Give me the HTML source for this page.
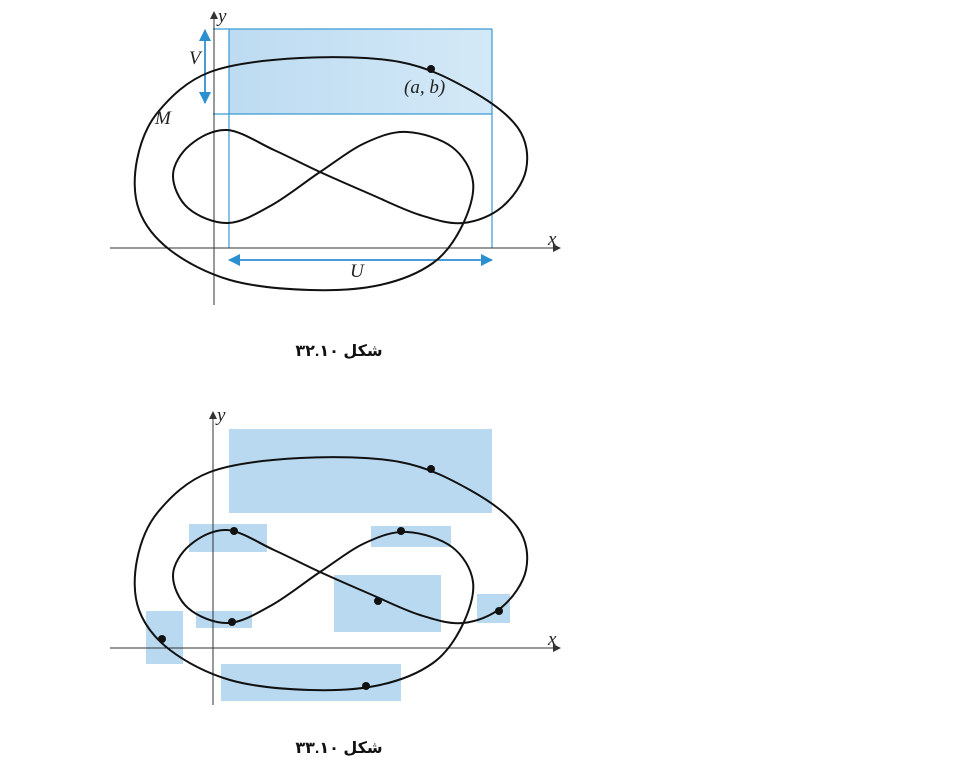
<!DOCTYPE html>
<html><head><meta charset="utf-8">
<style>
html,body{margin:0;padding:0;background:#fff;}
svg{display:block;}
.lbl{font-family:"Liberation Serif",serif;font-style:italic;font-size:19px;fill:#222;}
.cap{font-family:"Liberation Sans","DejaVu Sans",sans-serif;font-weight:bold;font-size:16px;fill:#111;}
</style></head><body>
<svg id="s" width="960" height="769" viewBox="0 0 960 769" xmlns="http://www.w3.org/2000/svg">
<defs>
<marker id="ab" markerWidth="8" markerHeight="8" refX="7" refY="4" orient="auto" markerUnits="userSpaceOnUse"><path d="M0,0 L8,4 L0,8 z" fill="#333"/></marker>
<marker id="bb" markerWidth="12" markerHeight="12" refX="11" refY="6" orient="auto" markerUnits="userSpaceOnUse"><path d="M0,0 L12,6 L0,12 z" fill="#2b8fd0"/></marker>
<linearGradient id="g" x1="0" x2="1" y1="0" y2="0"><stop offset="0" stop-color="#bddbf1"/><stop offset="1" stop-color="#d4e9f7"/></linearGradient>
</defs>
<rect x="229" y="29" width="263" height="85" fill="url(#g)"/>
<g stroke="#3b9ad4" stroke-width="1.2" fill="none">
<line x1="213" y1="29" x2="492" y2="29"/>
<line x1="213" y1="114" x2="492" y2="114"/>
<line x1="229" y1="29" x2="229" y2="248"/>
<line x1="492" y1="29" x2="492" y2="248"/>
</g>
<line x1="205" y1="40" x2="205" y2="103" stroke="#2b8fd0" stroke-width="1.5" marker-end="url(#bb)"/>
<line x1="205" y1="103" x2="205" y2="30" stroke="#2b8fd0" stroke-width="1.5" marker-end="url(#bb)"/>
<line x1="240" y1="260" x2="492" y2="260" stroke="#2b8fd0" stroke-width="1.5" marker-end="url(#bb)"/>
<line x1="480" y1="260" x2="229" y2="260" stroke="#2b8fd0" stroke-width="1.5" marker-end="url(#bb)"/>
<line x1="110" y1="248" x2="560" y2="248" stroke="#333" stroke-width="1" marker-end="url(#ab)"/>
<line x1="214" y1="305" x2="214" y2="12" stroke="#333" stroke-width="1" marker-end="url(#ab)"/>
<path id="c1" fill="none" stroke="#111" stroke-width="2"/>
<circle cx="431" cy="69" r="4" fill="#111"/>
<text class="lbl" x="218" y="22">y</text>
<text class="lbl" x="548" y="245">x</text>
<text class="lbl" x="189" y="64">V</text>
<text class="lbl" x="155" y="124">M</text>
<text class="lbl" x="404" y="93">(a, b)</text>
<text class="lbl" x="350" y="277">U</text>
<text class="cap" x="339" y="356" text-anchor="middle" direction="rtl">شکل ۳۲.۱۰</text>
<g fill="#b9d9f0">
<rect x="229" y="429" width="263" height="84"/>
<rect x="189" y="524" width="78" height="28"/>
<rect x="371" y="526" width="80" height="21"/>
<rect x="196" y="611" width="56" height="17"/>
<rect x="334" y="575" width="107" height="57"/>
<rect x="477" y="594" width="33" height="29"/>
<rect x="146" y="611" width="37" height="53"/>
<rect x="221" y="664" width="180" height="37"/>
</g>
<line x1="110" y1="648" x2="560" y2="648" stroke="#333" stroke-width="1" marker-end="url(#ab)"/>
<line x1="213" y1="705" x2="213" y2="412" stroke="#333" stroke-width="1" marker-end="url(#ab)"/>
<path id="c2" fill="none" stroke="#111" stroke-width="2" transform="translate(0,400)"/>
<g fill="#111">
<circle cx="431" cy="469" r="4"/><circle cx="234" cy="531" r="4"/><circle cx="401" cy="531" r="4"/>
<circle cx="232" cy="622" r="4"/><circle cx="378" cy="601" r="4"/><circle cx="499" cy="611" r="4"/>
<circle cx="162" cy="639" r="4"/><circle cx="366" cy="686" r="4"/>
</g>
<text class="lbl" x="217" y="421">y</text>
<text class="lbl" x="548" y="645">x</text>
<text class="cap" x="339" y="753" text-anchor="middle" direction="rtl">شکل ۳۳.۱۰</text>
</svg>
<script>
var P=[[227,130],[190,145],[173,175],[188,208],[228,223],[272,205],[320,172],[365,143],[407,132],[452,147],[473,182],[462,226],[433,263],[380,285],[310,290],[230,280],[170,250],[139,210],[137,160],[158,112],[210,72],[300,58],[400,62],[470,90],[518,128],[526,170],[502,207],[463,223],[420,215],[370,194],[320,172],[274,150]];
var n=P.length,d="M"+P[0][0]+","+P[0][1];
for(var i=0;i<n;i++){var p0=P[(i-1+n)%n],p1=P[i],p2=P[(i+1)%n],p3=P[(i+2)%n];
var c1=[p1[0]+(p2[0]-p0[0])/6,p1[1]+(p2[1]-p0[1])/6],c2=[p2[0]-(p3[0]-p1[0])/6,p2[1]-(p3[1]-p1[1])/6];
d+=" C"+c1[0].toFixed(1)+","+c1[1].toFixed(1)+" "+c2[0].toFixed(1)+","+c2[1].toFixed(1)+" "+p2[0]+","+p2[1];}
d+="Z";
document.getElementById("c1").setAttribute("d",d);
document.getElementById("c2").setAttribute("d",d);
</script>
</body></html>
